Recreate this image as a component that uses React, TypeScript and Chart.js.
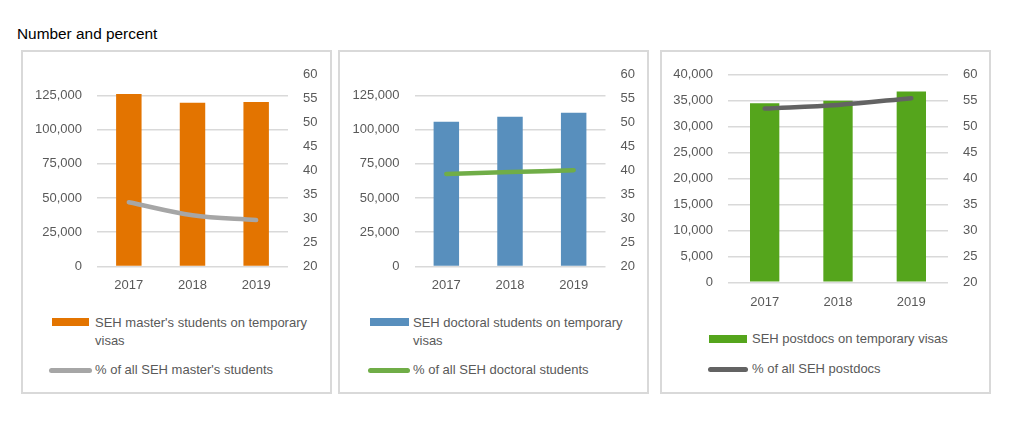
import React, { useEffect, useRef } from "react";
import { Chart, registerables } from "chart.js";

Chart.register(...registerables);

const years = ["2017", "2018", "2019"];

const mastersCount = [126000, 119500, 120200];
const mastersPct = [33.4, 30.7, 29.7];
const doctoralCount = [105700, 109300, 112200];
const doctoralPct = [39.3, 39.7, 40.1];
const postdocCount = [34500, 35000, 36800];
const postdocPct = [53.5, 54.2, 55.5];

const studentTicks = [0, 25000, 50000, 75000, 100000, 125000];
const studentMax = 140000;
const postdocTicks = [0, 5000, 10000, 15000, 20000, 25000, 30000, 35000, 40000];
const postdocMax = 40000;
const pctTicks = [20, 25, 30, 35, 40, 45, 50, 55, 60];

const titleText = "Number and percent";
const mastersBarLabel = "SEH master's students on temporary visas";
const mastersLineLabel = "% of all SEH master's students";
const doctoralBarLabel = "SEH doctoral students on temporary visas";
const doctoralLineLabel = "% of all SEH doctoral students";
const postdocBarLabel = "SEH postdocs on temporary visas";
const postdocLineLabel = "% of all SEH postdocs";

const FONT = '"Liberation Sans", Arial, sans-serif';
const TEXT = "#595959";
const GRID = "#d9d9d9";

type PanelCfg = {
  left: number;
  top: number;
  width: number;
  height: number;
  canvasH: number;
  leftW: number;
  rightW: number;
  padTop: number;
  xH: number;
  xPad: number;
  counts: number[];
  pcts: number[];
  ticks: number[];
  max: number;
  barColor: string;
  lineColor: string;
  barLabel: string;
  lineLabel: string;
  legend: {
    barX: number; barW: number; barY: number;
    textX: number; textY: number; textW: number;
    lineX: number; lineW: number; lineY: number;
    lineTextY: number;
  };
};

const panels: PanelCfg[] = [
  {
    left: 21, top: 50, width: 311, height: 344, canvasH: 250,
    leftW: 74, rightW: 42, padTop: 21, xH: 35.5, xPad: 11,
    counts: mastersCount, pcts: mastersPct, ticks: studentTicks, max: studentMax,
    barColor: "#E37400", lineColor: "#A6A6A6",
    barLabel: mastersBarLabel, lineLabel: mastersLineLabel,
    legend: { barX: 52, barW: 37, barY: 322, textX: 95, textY: 323, textW: 225, lineX: 49, lineW: 43, lineY: 370, lineTextY: 370 },
  },
  {
    left: 338, top: 50, width: 311, height: 344, canvasH: 250,
    leftW: 74.5, rightW: 41.5, padTop: 21, xH: 35.5, xPad: 11,
    counts: doctoralCount, pcts: doctoralPct, ticks: studentTicks, max: studentMax,
    barColor: "#588FBD", lineColor: "#70AD47",
    barLabel: doctoralBarLabel, lineLabel: doctoralLineLabel,
    legend: { barX: 370, barW: 39, barY: 322, textX: 413, textY: 323, textW: 225, lineX: 368, lineW: 42, lineY: 370, lineTextY: 370 },
  },
  {
    left: 660, top: 50, width: 331, height: 344, canvasH: 270,
    leftW: 66, rightW: 41, padTop: 21, xH: 39.7, xPad: 12,
    counts: postdocCount, pcts: postdocPct, ticks: postdocTicks, max: postdocMax,
    barColor: "#55A51C", lineColor: "#636363",
    barLabel: postdocBarLabel, lineLabel: postdocLineLabel,
    legend: { barX: 709, barW: 38, barY: 339, textX: 752, textY: 339, textW: 230, lineX: 708, lineW: 40, lineY: 369, lineTextY: 369 },
  },
];

function Panel({ cfg }: { cfg: PanelCfg }) {
  const ref = useRef<HTMLCanvasElement | null>(null);
  const innerW = cfg.width - 4;

  useEffect(() => {
    if (!ref.current) return;
    const tickFont = { family: FONT, size: 13 };
    const chart = new Chart(ref.current, {
      type: "bar",
      data: {
        labels: years,
        datasets: [
          {
            type: "line",
            label: cfg.lineLabel,
            data: cfg.pcts,
            yAxisID: "y1",
            borderColor: cfg.lineColor,
            borderWidth: 4.5,
            borderCapStyle: "round",
            tension: 0.35,
            pointRadius: 0,
            fill: false,
            order: 0,
          } as any,
          {
            type: "bar",
            label: cfg.barLabel,
            data: cfg.counts,
            yAxisID: "y",
            backgroundColor: cfg.barColor,
            barPercentage: 0.4,
            categoryPercentage: 1,
            order: 1,
          },
        ],
      },
      options: {
        responsive: false,
        animation: false,
        layout: { padding: { top: cfg.padTop, left: 0, right: 0, bottom: 0 } },
        plugins: { legend: { display: false }, tooltip: { enabled: false } },
        scales: {
          x: {
            grid: { display: false, drawTicks: false },
            border: { display: false },
            ticks: { color: TEXT, font: tickFont, padding: cfg.xPad },
            afterFit: (s: any) => { s.height = cfg.xH; },
          },
          y: {
            position: "left",
            min: 0,
            max: cfg.max,
            ticks: {
              color: TEXT,
              font: tickFont,
              padding: 15,
              callback: (v: any) => Number(v).toLocaleString("en-US"),
            },
            grid: { color: GRID, lineWidth: 1.6, drawTicks: false },
            border: { display: false },
            afterFit: (s: any) => { s.width = cfg.leftW; },
            afterBuildTicks: (s: any) => {
              s.ticks = cfg.ticks.map((v) => ({ value: v }));
            },
          },
          y1: {
            position: "right",
            min: pctTicks[0],
            max: pctTicks[pctTicks.length - 1],
            ticks: { color: TEXT, font: tickFont, padding: 15 },
            grid: { display: false, drawTicks: false },
            border: { display: false },
            afterFit: (s: any) => { s.width = cfg.rightW; },
            afterBuildTicks: (s: any) => {
              s.ticks = pctTicks.map((v) => ({ value: v }));
            },
          },
        },
      } as any,
    });
    return () => chart.destroy();
  }, [cfg]);

  const lg = cfg.legend;
  const textStyle: React.CSSProperties = {
    position: "absolute",
    fontFamily: FONT,
    fontSize: 13,
    lineHeight: "18px",
    color: TEXT,
    whiteSpace: "normal",
  };

  return (
    <>
      <div
        style={{
          position: "absolute",
          left: cfg.left,
          top: cfg.top,
          width: cfg.width,
          height: cfg.height,
          boxSizing: "border-box",
          border: "2px solid #d9d9d9",
          background: "#fff",
        }}
      />
      <canvas
        ref={ref}
        width={innerW}
        height={cfg.canvasH}
        style={{ position: "absolute", left: cfg.left + 2, top: cfg.top + 2, width: innerW, height: cfg.canvasH }}
      />
      <div
        style={{
          position: "absolute",
          left: lg.barX,
          top: lg.barY - 4,
          width: lg.barW,
          height: 8,
          background: cfg.barColor,
        }}
      />
      <div style={{ ...textStyle, left: lg.textX, top: lg.textY - 9, width: lg.textW }}>{cfg.barLabel}</div>
      <div
        style={{
          position: "absolute",
          left: lg.lineX,
          top: lg.lineY - 2.5,
          width: lg.lineW,
          height: 5,
          borderRadius: 2.5,
          background: cfg.lineColor,
        }}
      />
      <div style={{ ...textStyle, left: lg.textX, top: lg.lineTextY - 9, width: lg.textW }}>{cfg.lineLabel}</div>
    </>
  );
}

export default function App() {
  return (
    <div style={{ position: "absolute", left: 0, top: 0, width: 1014, height: 425 }}>
      <div
        style={{
          position: "absolute",
          left: 17,
          top: 25,
          fontFamily: FONT,
          fontSize: 15.4,
          lineHeight: "18px",
          color: "#000",
          whiteSpace: "nowrap",
        }}
      >
        {titleText}
      </div>
      {panels.map((p, i) => (
        <Panel key={i} cfg={p} />
      ))}
    </div>
  );
}
